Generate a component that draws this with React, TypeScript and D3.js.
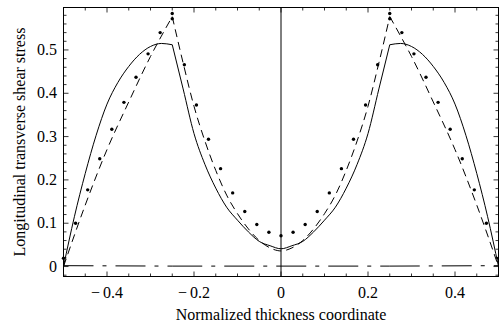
import * as d3 from 'd3';

// solid curve
const solidX = [-0.5, -0.475, -0.45, -0.425, -0.4, -0.375, -0.35, -0.325, -0.3, -0.275, -0.25, -0.225, -0.2, -0.175, -0.15, -0.125, -0.1, -0.075, -0.05, -0.025, 0,
  0.025, 0.05, 0.075, 0.1, 0.125, 0.15, 0.175, 0.2, 0.225, 0.25, 0.275, 0.3, 0.325, 0.35, 0.375, 0.4, 0.425, 0.45, 0.475, 0.5];
const solidY = [0, 0.115, 0.215, 0.303, 0.375, 0.425, 0.462, 0.49, 0.508, 0.515, 0.512, 0.41, 0.307, 0.236, 0.181, 0.137, 0.107, 0.08, 0.058, 0.048, 0.041,
  0.048, 0.058, 0.08, 0.107, 0.137, 0.181, 0.236, 0.307, 0.41, 0.512, 0.515, 0.508, 0.49, 0.462, 0.425, 0.375, 0.303, 0.215, 0.115, 0];

// dashed curve
const dashedX = [-0.5, -0.45, -0.4, -0.35, -0.3, -0.275, -0.25, -0.225, -0.2, -0.175, -0.15, -0.125, -0.1, -0.075, -0.05, -0.025, 0,
  0.025, 0.05, 0.075, 0.1, 0.125, 0.15, 0.175, 0.2, 0.225, 0.25, 0.275, 0.3, 0.35, 0.4, 0.45, 0.5];
const dashedY = [0, 0.142, 0.27, 0.38, 0.485, 0.532, 0.577, 0.47, 0.37, 0.29, 0.222, 0.165, 0.122, 0.087, 0.06, 0.043, 0.036,
  0.043, 0.06, 0.087, 0.122, 0.165, 0.222, 0.29, 0.37, 0.47, 0.577, 0.532, 0.485, 0.38, 0.27, 0.142, 0];

// dot-dashed curve (near zero)
const dashDotX = [-0.5, -0.25, 0, 0.25, 0.5];
const dashDotY = [0.002, 0.001, 0.001, 0.001, 0.002];

// dots
const dotX = [-0.5, -0.4722, -0.4444, -0.4167, -0.3889, -0.3611, -0.3333, -0.3056, -0.2778, -0.25, -0.25, -0.2222, -0.1944, -0.1667, -0.1389, -0.1111, -0.0833, -0.0556, -0.0278, 0,
  0.0278, 0.0556, 0.0833, 0.1111, 0.1389, 0.1667, 0.1944, 0.2222, 0.25, 0.25, 0.2778, 0.3056, 0.3333, 0.3611, 0.3889, 0.4167, 0.4444, 0.4722, 0.5];
const dotY = [0.019, 0.1, 0.177, 0.249, 0.317, 0.379, 0.437, 0.491, 0.54, 0.572, 0.584, 0.466, 0.373, 0.294, 0.226, 0.17, 0.127, 0.097, 0.079, 0.071,
  0.079, 0.097, 0.127, 0.17, 0.226, 0.294, 0.373, 0.466, 0.572, 0.584, 0.54, 0.491, 0.437, 0.379, 0.317, 0.249, 0.177, 0.1, 0.019];

// layer interfaces where the curves have a kink
const kinks = [-0.25, 0.25];

const xTickLabels = [-0.4, -0.2, 0, 0.2, 0.4];
const yTickLabels = [0, 0.1, 0.2, 0.3, 0.4, 0.5];

const W = 499;
const H = 332;
const left = 63.5, right = 498.5, top = 7.5, bottom = 276.5;
const font = '"Liberation Serif", "Times New Roman", serif';

export default function App() {
  const x = d3.scaleLinear().domain([-0.5, 0.5]).range([left, right]);
  const y = d3.scaleLinear().domain([-0.023, 0.598]).range([bottom, top]);

  const gen = d3.line<[number, number]>()
    .x((d) => x(d[0]))
    .y((d) => y(d[1]))
    .curve(d3.curveMonotoneX);

  // draw each layer piece separately so the kinks stay sharp
  const piecewise = (xs: number[], ys: number[]) => {
    const pts: [number, number][] = xs.map((v, i) => [v, ys[i]]);
    const bounds = [-Infinity, ...kinks, Infinity];
    let d = '';
    for (let b = 0; b < bounds.length - 1; b++) {
      const seg = pts.filter((p) => p[0] >= bounds[b] - 1e-9 && p[0] <= bounds[b + 1] + 1e-9);
      if (seg.length > 1) d += gen(seg) ?? '';
    }
    return d;
  };

  const xMinor = d3.range(-10, 11).map((i) => i * 0.05);
  const yMinor = d3.range(-1, 30).map((i) => i * 0.02);
  const isMajorX = (v: number) => Math.abs(v * 5 - Math.round(v * 5)) < 1e-6;
  const isMajorY = (v: number) => Math.abs(v * 10 - Math.round(v * 10)) < 1e-6;

  const fmt = (v: number) => {
    const s = d3.format('.1f')(Math.abs(v));
    if (v === 0) return '0';
    return v < 0 ? '\u2212\u2009' + s : s;
  };

  return (
    <svg width={W} height={H} style={{ position: 'absolute', left: 0, top: 0, background: '#fff' }} fontFamily={font}>
      {/* curves */}
      <path d={piecewise(solidX, solidY)} fill="none" stroke="#000" strokeWidth={1} />
      <path d={piecewise(dashedX, dashedY)} fill="none" stroke="#000" strokeWidth={1} strokeDasharray="8,5" />
      <path d={piecewise(dashDotX, dashDotY)} fill="none" stroke="#000" strokeWidth={1} strokeDasharray="30,9,4,9" />
      {dotY.map((d, i) => (
        <circle key={i} cx={x(dotX[i])} cy={y(d)} r={1.7} fill="#000" />
      ))}

      {/* vertical axis at x=0 */}
      <line x1={x(0)} x2={x(0)} y1={top} y2={bottom} stroke="#000" strokeWidth={1} />

      {/* frame */}
      <rect x={left} y={top} width={right - left} height={bottom - top} fill="none" stroke="#000" strokeWidth={1} />

      {/* x ticks, bottom and top */}
      {xMinor.map((v, i) => {
        const len = isMajorX(v) ? 5 : 3;
        return (
          <g key={'xt' + i}>
            <line x1={x(v)} x2={x(v)} y1={bottom} y2={bottom - len} stroke="#000" strokeWidth={0.8} />
            <line x1={x(v)} x2={x(v)} y1={top} y2={top + len} stroke="#000" strokeWidth={0.8} />
          </g>
        );
      })}
      {/* y ticks, left and right */}
      {yMinor.map((v, i) => {
        const len = isMajorY(v) ? 5 : 3;
        return (
          <g key={'yt' + i}>
            <line x1={left} x2={left + len} y1={y(v)} y2={y(v)} stroke="#000" strokeWidth={0.8} />
            <line x1={right} x2={right - len} y1={y(v)} y2={y(v)} stroke="#000" strokeWidth={0.8} />
          </g>
        );
      })}

      {/* tick labels */}
      {xTickLabels.map((v) => (
        <text key={'xl' + v} x={x(v)} y={298} textAnchor="middle" fontSize={16} fill="#000">
          {fmt(v)}
        </text>
      ))}
      {yTickLabels.map((v) => (
        <text key={'yl' + v} x={left - 6.5} y={y(v) + 5} textAnchor="end" fontSize={16} fill="#000">
          {fmt(v)}
        </text>
      ))}

      {/* axis titles */}
      <text x={(left + right) / 2} y={320} textAnchor="middle" fontSize={16} fill="#000">
        Normalized thickness coordinate
      </text>
      <text
        transform={`translate(25,${(top + bottom) / 2}) rotate(-90)`}
        textAnchor="middle"
        fontSize={16}
        fill="#000"
      >
        Longitudinal transverse shear stress
      </text>
    </svg>
  );
}
